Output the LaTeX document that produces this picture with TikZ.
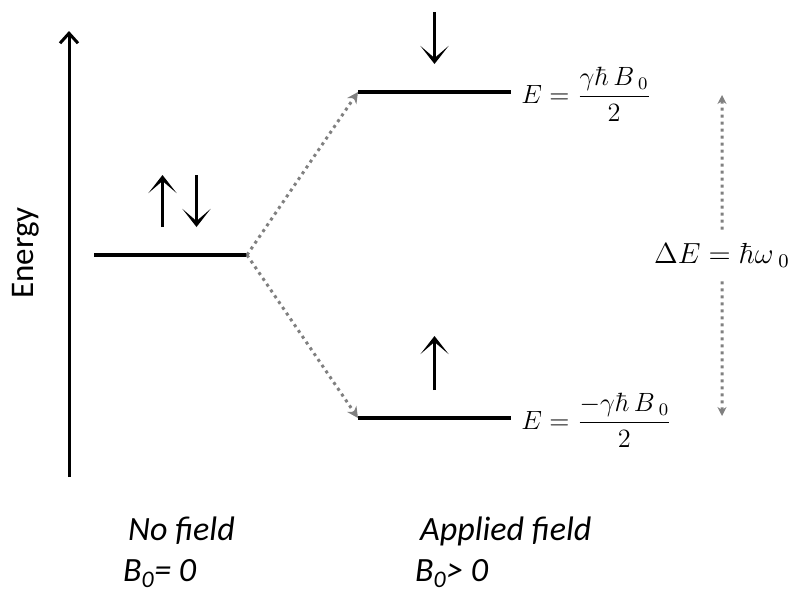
\documentclass[tikz,border=0pt]{standalone}
\usepackage{amsmath}
\usepackage[no-math]{fontspec}
\newfontfamily\calibri{Carlito}
\usetikzlibrary{arrows.meta,positioning,calc}

\begin{document}
\begin{tikzpicture}[x=1pt, y=-1pt,
      lvl/.style={line width=3.5pt},
      axisline/.style={line width=3pt, -{Straight Barb[length=10pt,width=18pt]}},
      spin/.style={line width=3pt, -{Stealth[length=18pt,width=28pt,inset=12pt]}},
      split/.style={gray, line width=3pt, dash pattern=on 3pt off 4pt,
                    -{Stealth[length=11pt,width=11pt]}},
      gapline/.style={gray, line width=3pt, dash pattern=on 3pt off 4pt,
                      -{Stealth[length=9pt,width=9pt]}},
      eqn/.style={inner sep=0pt, font=\fontsize{12}{14}\selectfont, scale=2.2, transform shape},
      lab/.style={inner sep=0pt, font=\calibri\itshape\fontsize{34}{40}\selectfont}]
    \useasboundingbox (0,0) rectangle (793,592);
    % --- energy axis ---
    \coordinate (axbot) at (69,477);
    \coordinate (axtop) at (69,31);
    \draw[axisline] (axbot) -- (axtop);
    \node[rotate=90, inner sep=0pt, font=\calibri\fontsize{33}{40}\selectfont] (elab) at (26,253) {Energy};
    % --- levels ---
    \coordinate (zl) at (94,255);
    \coordinate (zr) at (247,255);
    \coordinate (ul) at (358,92);
    \coordinate (ur) at (511,92);
    \coordinate (ll) at (358,418);
    \coordinate (lr) at (511,418);
    \draw[lvl] (zl) -- (zr);
    \draw[lvl] (ul) -- (ur);
    \draw[lvl] (ll) -- (lr);
    \draw[split] (zr) -- (ul);
    \draw[split] (zr) -- (ll);
    % --- spins ---
    \draw[spin] ($(zl)!0.5!(zr)+(-8,-28)$) -- ++(0,-52);
    \draw[spin] ($(zl)!0.5!(zr)+(26,-80)$) -- ++(0,52);
    \draw[spin] ($(ul)!0.5!(ur)+(0,-80)$) -- ++(0,52);
    \draw[spin] ($(ll)!0.5!(lr)+(0,-28)$) -- ++(0,-54);
    % --- energies ---
    \node[eqn, anchor=west] (eup) at ($(ur)+(10,2)$) {$E=\dfrac{\gamma\hbar\,B_{\;0}}{2}$};
    \node[eqn, anchor=west] (elo) at ($(lr)+(10,2)$) {$E=\dfrac{-\gamma\hbar\,B_{\;0}}{2}$};
    % --- splitting ---
    \coordinate (dtop) at (722,95);
    \coordinate (dbot) at (722,416);
    \node[eqn, scale=1.1, minimum height=21pt] (de) at ($(dtop)!0.5!(dbot)$) {$\Delta E=\hbar\omega_{\;0}$};
    \draw[gapline] (de) -- (dtop);
    \draw[gapline] (de) -- (dbot);
    % --- captions ---
    \node[lab, anchor=base west] (nofield) at (128,540) {No field};
    \node[lab, anchor=base west] (bzero) at ([shift={(-5,41)}]nofield.base west) {B\textsubscript{0}= 0};
    \node[lab, anchor=base west] (applied) at (420,540) {Applied field};
    \node[lab, anchor=base west] (bpos) at ([shift={(-5,41)}]applied.base west) {B\textsubscript{0}> 0};
\end{tikzpicture}
\end{document}
